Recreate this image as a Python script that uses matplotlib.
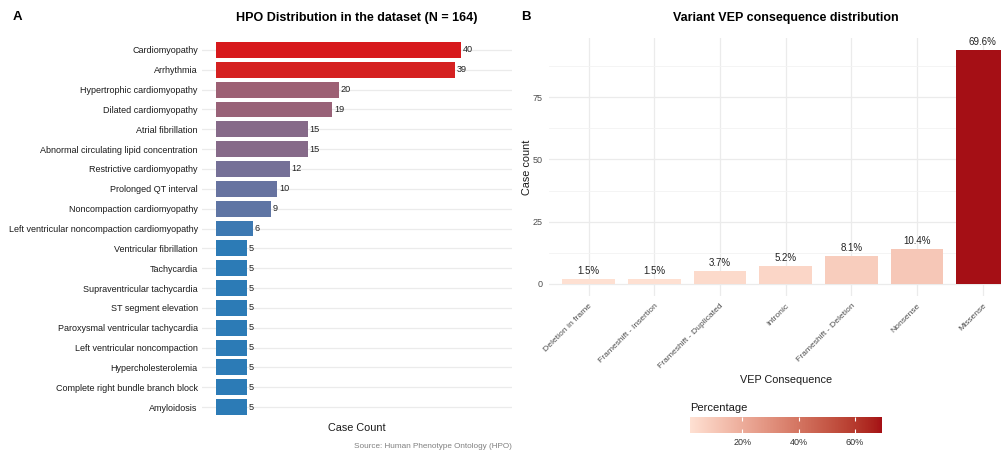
import numpy as np
import matplotlib
matplotlib.use("Agg")
import matplotlib.pyplot as plt
import matplotlib.colors as mcolors
from matplotlib.ticker import FuncFormatter

plt.rcParams['font.family'] = ['Liberation Sans', 'DejaVu Sans']

# HPO terms, top to bottom
hpo_terms = ['Cardiomyopathy', 'Arrhythmia', 'Hypertrophic cardiomyopathy', 'Dilated cardiomyopathy',
             'Atrial fibrillation', 'Abnormal circulating lipid concentration', 'Restrictive cardiomyopathy',
             'Prolonged QT interval', 'Noncompaction cardiomyopathy',
             'Left ventricular noncompaction cardiomyopathy', 'Ventricular fibrillation', 'Tachycardia',
             'Supraventricular tachycardia', 'ST segment elevation', 'Paroxysmal ventricular tachycardia',
             'Left ventricular noncompaction', 'Hypercholesterolemia', 'Complete right bundle branch block',
             'Amyloidosis']
hpo_counts = [40, 39, 20, 19, 15, 15, 12, 10, 9, 6, 5, 5, 5, 5, 5, 5, 5, 5, 5]

# VEP consequences
vep_labels = ['Deletion in frame', 'Frameshift - Insertion', 'Frameshift - Duplicated', 'Intronic',
              'Frameshift - Deletion', 'Nonsense', 'Missense']
vep_counts = [2, 2, 5, 7, 11, 14, 94]


def to_lab(c):
    rgb = np.array(mcolors.to_rgb(c))
    lin = np.where(rgb <= 0.04045, rgb / 12.92, ((rgb + 0.055) / 1.055) ** 2.4)
    M = np.array([[0.4124, 0.3576, 0.1805], [0.2126, 0.7152, 0.0722], [0.0193, 0.1192, 0.9505]])
    xyz = M @ lin / np.array([0.95047, 1.0, 1.08883])
    f = np.where(xyz > 0.008856, np.cbrt(xyz), 7.787 * xyz + 16 / 116)
    return np.array([116 * f[1] - 16, 500 * (f[0] - f[1]), 200 * (f[1] - f[2])])


def from_lab(lab):
    fy = (lab[0] + 16) / 116
    f = np.array([fy + lab[1] / 500, fy, fy - lab[2] / 200])
    xyz = np.where(f ** 3 > 0.008856, f ** 3, (f - 16 / 116) / 7.787) * np.array([0.95047, 1.0, 1.08883])
    Mi = np.array([[3.2406, -1.5372, -0.4986], [-0.9689, 1.8758, 0.0415], [0.0557, -0.2040, 1.0570]])
    lin = np.clip(Mi @ xyz, 0, 1)
    rgb = np.where(lin <= 0.0031308, lin * 12.92, 1.055 * lin ** (1 / 2.4) - 0.055)
    return np.clip(rgb, 0, 1)


def lab_gradient(low, high, n=256):
    a, b = to_lab(low), to_lab(high)
    return mcolors.ListedColormap([from_lab(a + (b - a) * t) for t in np.linspace(0, 1, n)])


fig = plt.figure(figsize=(10.01, 4.5), dpi=100)
W, H = 1001, 450

# ---- A: HPO terms ----
axA = fig.add_axes([202 / W, 1 - 419 / H, 310 / W, 381 / H])
cmapA = lab_gradient('#2C7BB6', '#D7191C')
normA = mcolors.Normalize(min(hpo_counts), max(hpo_counts))
ypos = np.arange(len(hpo_terms))
axA.barh(ypos, hpo_counts, height=0.8, color=cmapA(normA(np.array(hpo_counts))), zorder=2)
for y, v in zip(ypos, hpo_counts):
    axA.text(v + 0.3, y, str(v), va='center', ha='left', fontsize=6.6, color='#222222')
axA.set_yticks(ypos)
axA.set_yticklabels(hpo_terms, fontsize=6.5, color='#1a1a1a')
axA.set_ylim(len(hpo_terms) - 0.4, -0.6)
axA.set_xlim(-2.3, 48.3)
axA.set_xticks([])
axA.grid(axis='y', color='#EBEBEB', linewidth=0.9, zorder=0)
axA.tick_params(axis='y', length=0, pad=3)
for s in axA.spines.values():
    s.set_visible(False)

fig.text(17 / W, 1 - 17 / H, 'A', fontsize=9.5, fontweight='bold', ha='center', va='center')
fig.text(357 / W, 1 - 18 / H, 'HPO Distribution in the dataset (N = 164)', fontsize=9,
         fontweight='bold', ha='center', va='center')
fig.text(357 / W, 1 - 428 / H, 'Case Count', fontsize=7.8, ha='center', va='center', color='#1a1a1a')
fig.text(512 / W, 1 - 446 / H, 'Source: Human Phenotype Ontology (HPO)', fontsize=5.9,
         ha='right', va='center', color='#808080')

# ---- B: VEP consequences ----
axB = fig.add_axes([549.3 / W, 1 - 295.5 / H, 472.7 / W, 257.2 / H])
cmapB = lab_gradient('#FEE0D2', '#A50F15')
total = sum(vep_counts)
pct = np.array(vep_counts) / total * 100
normB = mcolors.Normalize(pct.min(), pct.max())
xpos = np.arange(len(vep_labels))
axB.bar(xpos, vep_counts, width=0.8, color=cmapB(normB(pct)), zorder=2)
for x, v, p in zip(xpos, vep_counts, pct):
    axB.text(x, v + 1.2, f'{p:.1f}%', ha='center', va='bottom', fontsize=7, color='#222222')
axB.set_xlim(-0.6, len(vep_labels) - 0.4)
axB.set_ylim(-4.7, 98.7)
axB.set_yticks([0, 25, 50, 75])
axB.set_yticks([12.5, 37.5, 62.5, 87.5], minor=True)
axB.set_xticks(xpos)
axB.set_xticklabels(vep_labels, rotation=45, ha='right', va='top', rotation_mode='anchor',
                    fontsize=6.1, color='#4D4D4D')
axB.tick_params(axis='y', which='both', length=0, pad=5, labelsize=6.5, labelcolor='#4D4D4D')
axB.tick_params(axis='x', length=0, pad=5)
axB.grid(which='major', color='#EBEBEB', linewidth=0.9, zorder=0)
axB.grid(which='minor', axis='y', color='#F3F3F3', linewidth=0.6, zorder=0)
for s in axB.spines.values():
    s.set_visible(False)

fig.text(526 / W, 1 - 17 / H, 'B', fontsize=9.5, fontweight='bold', ha='center', va='center')
fig.text(786 / W, 1 - 18 / H, 'Variant VEP consequence distribution', fontsize=9,
         fontweight='bold', ha='center', va='center')
fig.text(527 / W, 1 - 167 / H, 'Case count', fontsize=7.8, rotation=90, ha='center', va='center',
         color='#1a1a1a')
fig.text(786 / W, 1 - 380 / H, 'VEP Consequence', fontsize=7.8, ha='center', va='center', color='#1a1a1a')

# colour bar legend
cax = fig.add_axes([690 / W, 1 - 432.7 / H, 192 / W, 16 / H])
sm = plt.cm.ScalarMappable(norm=normB, cmap=cmapB)
cb = fig.colorbar(sm, cax=cax, orientation='horizontal')
cb.outline.set_visible(False)
cb.set_ticks([20, 40, 60])
cb.ax.xaxis.set_major_formatter(FuncFormatter(lambda v, _: f'{v:.0f}%'))
cb.ax.tick_params(axis='x', direction='in', length=3, width=0.8, color='white', top=True,
                  labelsize=6.5, labelcolor='#333333', pad=4)
fig.text(690 / W, 1 - 408 / H, 'Percentage', fontsize=8, ha='left', va='center', color='#1a1a1a')

fig.savefig('out.png', dpi=100)
